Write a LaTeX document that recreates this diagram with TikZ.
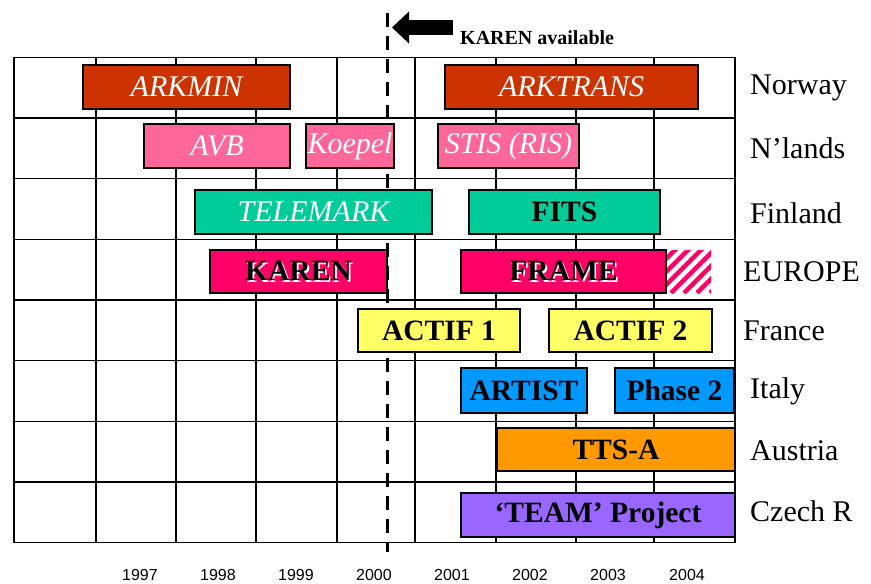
\documentclass[tikz,border=0pt]{standalone}
\usepackage{fontspec}
\setmainfont{Liberation Serif}
\newfontfamily\yearfont{Liberation Sans}
\usetikzlibrary{arrows.meta}

\definecolor{arkred}{HTML}{CC3300}
\definecolor{rispink}{HTML}{FF6699}
\definecolor{fitsgreen}{HTML}{00CC99}
\definecolor{eumagenta}{HTML}{FF0066}
\definecolor{actifyellow}{HTML}{FFFF66}
\definecolor{italyblue}{HTML}{0099FF}
\definecolor{ttsorange}{HTML}{FF9900}
\definecolor{teampurple}{HTML}{9966FF}

% black text with a small white shadow
\newcommand\embossed[1]{\makebox[0pt][l]{\hspace{1.6pt}\raisebox{-1.6pt}{\textcolor{white}{#1}}}#1}

\tikzset{
  gridline/.style={line width=1.5pt},
  bar/.style={draw, line width=1.5pt, inner sep=0pt, minimum height=44pt, font=\fontsize{29.5}{31}\selectfont\bfseries},
  whitebar/.style={bar, text=white, font=\fontsize{30}{32}\selectfont\itshape},
  country/.style={anchor=west, inner sep=0pt, font=\fontsize{30}{32}\selectfont},
  yearlabel/.style={inner sep=0pt, font=\yearfont\fontsize{16}{18}\selectfont},
  hatchline/.style={eumagenta, line width=4.5pt},
}

\begin{document}
\begin{tikzpicture}[x=1pt, y=-1pt]
      \useasboundingbox (0,0) rectangle (871,584);

      % grid
      \foreach \gx in {14,96,176,256,337,415,496,576,654,735}
        \draw[gridline] (\gx,57.3) -- (\gx,542.7);
      \foreach \k in {0,...,8}
        \draw[gridline] (14,57.3+60.68*\k) -- (735,57.3+60.68*\k);

      % availability marker
      \coordinate (markertop) at (387,13);
      \coordinate (markerbot) at (387,552);
      \draw[line width=3pt, dash pattern=on 14pt off 9pt] (markertop) -- (markerbot);
      \coordinate (arrowstart) at (453,27.5);
      \coordinate (arrowtip) at (392,27.5);
      \draw[line width=15pt, -{Triangle[length=17pt, width=31pt]}] (arrowstart) -- (arrowtip);
      \node[inner sep=0pt, anchor=west, font=\fontsize{20}{22}\selectfont\bfseries] (avail) at (460,38) {KAREN available};

      % projects
      \node[whitebar, fill=arkred, minimum width=207pt] (arkmin) at (186.5,87) {ARKMIN};
      \node[whitebar, fill=arkred, minimum width=253pt] (arktrans) at (571.5,87) {ARKTRANS};

      \node[whitebar, fill=rispink, minimum width=146pt] (avb) at (217,146) {AVB};
      \node[whitebar, fill=rispink, minimum width=88pt] (koepel) at (350,146) {Koepel};
      \node[whitebar, fill=rispink, minimum width=141pt] (stis) at (508.5,146) {STIS (RIS)};

      \node[whitebar, fill=fitsgreen, minimum width=237pt] (telemark) at (313.5,212) {TELEMARK};
      \node[bar, fill=fitsgreen, minimum width=191pt] (fits) at (564.5,212) {FITS};

      \node[bar, fill=eumagenta, minimum width=177pt, minimum height=43pt] (karen) at (298.5,271.5) {\embossed{KAREN}};
      \begin{scope}
        \clip (666,250) rectangle (711,293);
        \foreach \s in {-60,-47,...,60}
          \draw[hatchline] (666+\s,293) -- ++(50,-50);
      \end{scope}
      \node[bar, fill=eumagenta, minimum width=205pt, minimum height=43pt] (frame) at (563.5,271.5) {\embossed{FRAME}};

      \node[bar, fill=actifyellow, minimum width=162pt, minimum height=43pt] (actif1) at (439,330.5) {ACTIF 1};
      \node[bar, fill=actifyellow, minimum width=163pt, minimum height=43pt] (actif2) at (630.5,330.5) {ACTIF 2};

      \node[bar, fill=italyblue, minimum width=126pt, minimum height=45pt] (artist) at (524,390.5) {ARTIST};
      \node[bar, fill=italyblue, minimum width=119pt, minimum height=45pt] (phase2) at (674.5,390.5) {Phase 2};

      \node[bar, fill=ttsorange, minimum width=238pt, minimum height=43pt] (ttsa) at (616,449.5) {TTS-A};

      \node[bar, fill=teampurple, minimum width=274pt] (team) at (598,515) {‘TEAM’ Project};

      % countries
      \node[country] (norway) at (750,87.7) {Norway};
      \node[country] (nlands) at (750,148.4) {N’lands};
      \node[country] (finland) at (750,213) {Finland};
      \node[country] (europe) at (743,272) {EUROPE};
      \node[country] (france) at (743,331) {France};
      \node[country] (italy) at (750,391) {Italy};
      \node[country] (austria) at (750,451) {Austria};
      \node[country] (czech) at (750,511) {Czech R};

      % years
      \foreach \yr/\yx in {1997/140,1998/218,1999/296,2000/374,2001/452,2002/530,2003/608,2004/687}
        \node[yearlabel] (y\yr) at (\yx,575) {\yr};
    \end{tikzpicture}
\end{document}
